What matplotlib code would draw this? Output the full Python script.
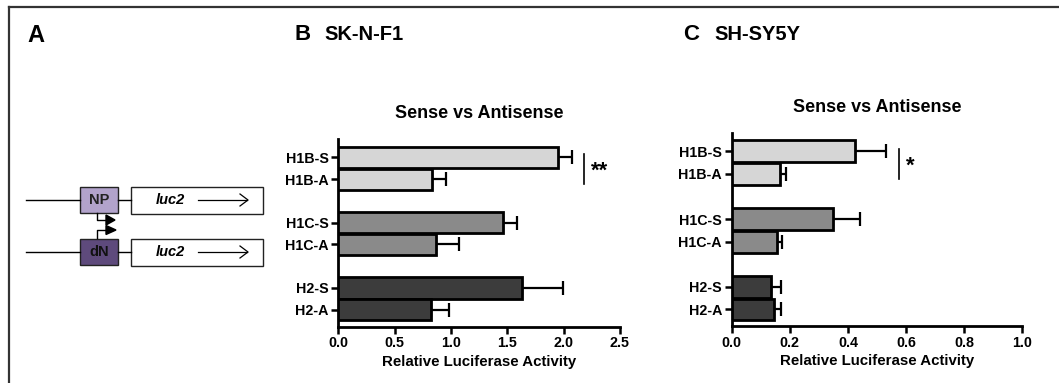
import matplotlib
matplotlib.use("Agg")
import matplotlib.pyplot as plt
from matplotlib.patches import Rectangle, Polygon
from matplotlib.lines import Line2D

plt.rcParams['font.family'] = ['Liberation Sans', 'DejaVu Sans']
plt.rcParams['font.weight'] = 'bold'

# Constructs, top to bottom
labels = ["H1B-S", "H1B-A", "H1C-S", "H1C-A", "H2-S", "H2-A"]
positions = [0, 1, 3, 4, 6, 7]
bar_colors = ["#d6d6d6", "#d6d6d6", "#8a8a8a", "#8a8a8a", "#3c3c3c", "#3c3c3c"]

# SK-N-F1 relative luciferase activity (mean, SEM)
skn_mean = [1.95, 0.83, 1.46, 0.87, 1.63, 0.82]
skn_err = [0.12, 0.13, 0.13, 0.20, 0.36, 0.16]

# SH-SY5Y relative luciferase activity (mean, SEM)
shs_mean = [0.424, 0.166, 0.350, 0.155, 0.134, 0.147]
shs_err = [0.106, 0.021, 0.091, 0.017, 0.035, 0.022]

W, H = 1059, 383
fig = plt.figure(figsize=(W / 100, H / 100), dpi=100)

# Background canvas in pixel coordinates for the frame and the construct diagram
bg = fig.add_axes([0, 0, 1, 1])
bg.set_xlim(0, W)
bg.set_ylim(H, 0)
bg.axis('off')

bg.add_line(Line2D([9, 9], [7, H], color="#333333", lw=1.6))
bg.add_line(Line2D([9, W], [7, 7], color="#333333", lw=1.6))

bg.text(27, 35, "A", fontsize=17, fontweight='bold', va='center', ha='left')
bg.text(295, 34, "B", fontsize=16, fontweight='bold', va='center', ha='left')
bg.text(324, 34, "SK-N-F1", fontsize=14.5, fontweight='bold', va='center', ha='left')
bg.text(683, 34, "C", fontsize=16, fontweight='bold', va='center', ha='left')
bg.text(714, 34, "SH-SY5Y", fontsize=14.5, fontweight='bold', va='center', ha='left')


def construct(y, label, face, txt_color):
    # backbone line, promoter box, reporter box
    bg.add_line(Line2D([26, 80], [y, y], color="black", lw=1.0))
    bg.add_patch(Rectangle((80, y - 13), 38, 26, facecolor=face, edgecolor="#222222", lw=1.0))
    bg.text(99, y + 0.5, label, fontsize=10.5, fontweight='bold', color=txt_color,
            ha='center', va='center')
    bg.add_line(Line2D([118, 131], [y, y], color="black", lw=1.0))
    bg.add_patch(Rectangle((131, y - 13.5), 132, 27, facecolor="white", edgecolor="#222222", lw=1.0))
    bg.text(170, y, "luc2", fontsize=10.5, fontweight='bold', fontstyle='italic',
            ha='center', va='center')
    bg.add_line(Line2D([198, 247], [y, y], color="black", lw=0.9))
    bg.add_line(Line2D([240, 248, 240], [y - 6, y, y + 6], color="black", lw=0.9))


construct(200, "NP", "#b2a3cb", "#222222")
construct(252, "dN", "#5e4a7c", "#111111")

# transcription start arrows
bg.add_line(Line2D([97, 97, 107], [213, 220, 220], color="black", lw=1.0))
bg.add_patch(Polygon([[106, 215], [115, 220], [106, 225]], closed=True, color="black"))
bg.add_line(Line2D([97, 97, 107], [238, 230, 230], color="black", lw=1.0))
bg.add_patch(Polygon([[106, 225.5], [116, 230], [106, 234.5]], closed=True, color="black"))


def bar_panel(rect, means, errs, xmax, xticks, ylims, sig_x, sig_y, sig_text):
    ax = fig.add_axes(rect)
    ax.barh(positions, means, height=0.97, color=bar_colors, edgecolor="black",
            linewidth=2.0, zorder=3)
    ax.errorbar(means, positions, xerr=[[0] * len(errs), errs], fmt='none',
                ecolor="black", elinewidth=1.6, capsize=5, capthick=1.6, zorder=2)
    ax.set_xlim(0, xmax)
    ax.set_ylim(*ylims)
    ax.set_yticks(positions)
    ax.set_yticklabels(labels)
    ax.set_xticks(xticks)
    ax.set_xticklabels([f"{t:.1f}" for t in xticks])
    for s in ("top", "right"):
        ax.spines[s].set_visible(False)
    for s in ("left", "bottom"):
        ax.spines[s].set_linewidth(2.0)
    ax.tick_params(axis='both', width=1.8, length=5, labelsize=10.3, pad=2)
    for lab in ax.get_xticklabels() + ax.get_yticklabels():
        lab.set_fontweight('bold')
    ax.set_title("Sense vs Antisense", fontsize=13, fontweight='bold', pad=15)
    ax.set_xlabel("Relative Luciferase Activity", fontsize=10.8, fontweight='bold', labelpad=3)
    ax.plot([sig_x, sig_x], sig_y, color="black", lw=1.2, clip_on=False)
    ax.text(sig_x + 0.025 * xmax, sum(sig_y) / 2 + 0.1, sig_text, fontsize=16,
            fontweight='bold', ha='left', va='center')
    return ax


bar_panel([338.3 / W, 1 - 326.7 / H, (620 - 338.3) / W, (326.7 - 139) / H],
          skn_mean, skn_err, 2.5, [0.0, 0.5, 1.0, 1.5, 2.0, 2.5],
          (7.78, -0.85), 2.18, (-0.15, 1.22), "**")

bar_panel([731.7 / W, 1 - 326 / H, (1022.3 - 731.7) / W, (326 - 132.7) / H],
          shs_mean, shs_err, 1.0, [0.0, 0.2, 0.4, 0.6, 0.8, 1.0],
          (7.73, -0.82), 0.575, (-0.1, 1.22), "*")

fig.savefig("out.png", dpi=100)
